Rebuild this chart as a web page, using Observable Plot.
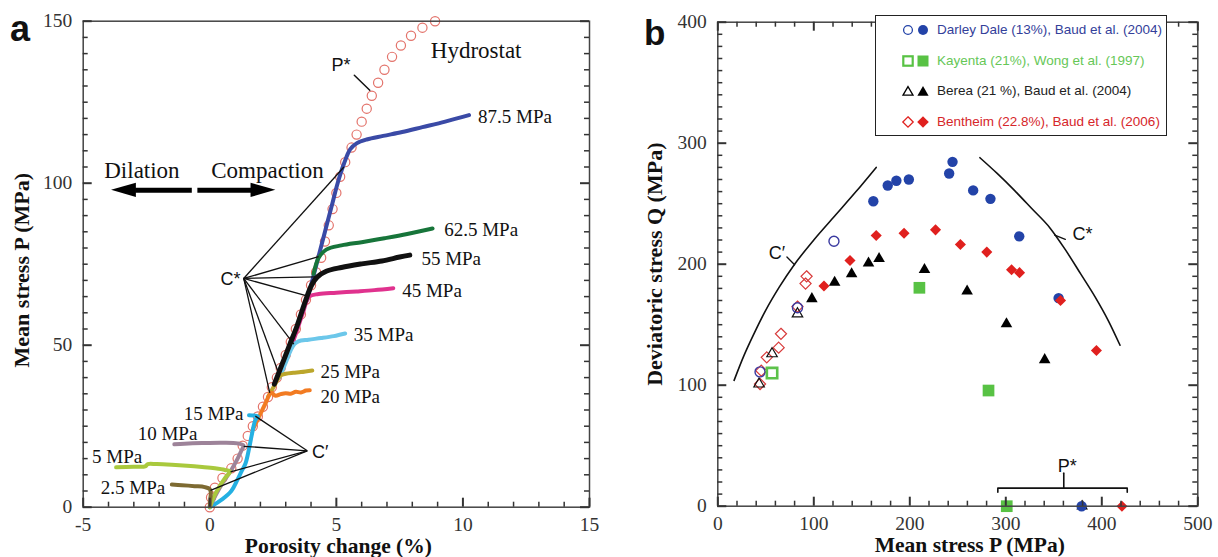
<!DOCTYPE html>
<html><head><meta charset="utf-8">
<script src="https://cdn.jsdelivr.net/npm/d3@7"></script>
<script src="https://cdn.jsdelivr.net/npm/@observablehq/plot@0.6"></script>
<style>
body{margin:0;background:#fff;}
#wrap{position:relative;width:1218px;height:557px;overflow:hidden;background:#fff;}
#pa{position:absolute;left:0;top:0;}
#pb{position:absolute;left:600px;top:0;}
.letter{position:absolute;font-family:"Liberation Sans",Arial,sans-serif;font-weight:bold;line-height:1;color:#111;}
#legend{position:absolute;left:875px;top:15px;width:290px;height:119px;border:1.5px solid #222;background:#fff;font-family:"Liberation Sans",Arial,sans-serif;font-size:13.5px;}
.row{position:absolute;left:0;height:20px;line-height:20px;white-space:nowrap;}
.row svg{position:absolute;top:0;}
.row span{position:absolute;left:61px;top:0;}
</style></head>
<body>
<div id="wrap">
  <div id="pa"></div>
  <div id="pb"></div>
  <div class="letter" style="left:10px;top:11px;font-size:36px">a</div>
  <div class="letter" style="left:644px;top:15px;font-size:35px">b</div>
  <div id="legend"></div>
</div>
<script>
// ---------------- Panel a data ----------------
const hydrostat = [[0,0],[0.05,3],[0.2,6],[0.5,9],[0.85,12],[1.1,15],[1.3,19],[1.5,22],[1.7,25],[1.9,28],[2.1,31],[2.3,34],[2.45,37],[2.65,40],[2.8,43],[3.0,47],[3.2,51],[3.4,55],[3.6,59.5],[3.8,64],[4.0,68.5],[4.2,72.5],[4.4,77],[4.55,82],[4.7,87],[4.85,92],[5.0,97],[5.15,102],[5.35,106.5],[5.6,111],[5.8,115],[6.0,119],[6.2,123],[6.4,127],[6.65,131],[6.9,135],[7.2,139],[7.55,142.5],[7.95,145.5],[8.4,148],[8.9,150]];

const curveNames  = ["87.5 MPa","62.5 MPa","45 MPa","35 MPa","25 MPa","20 MPa","55 MPa","15 MPa","10 MPa","5 MPa","2.5 MPa"];
const curveColors = ["#3a4aa6","#17753a","#e0328e","#6cc7ea","#bba62c","#f27b22","#111111","#24b0e2","#9d8399","#a9c93d","#7d6a32"];
const curveWidths = [4,4,4,4,4,4,5,4,4,4,4];
const curve875 = [[3.85,64],[4.05,70],[4.25,76],[4.45,82],[4.65,88],[4.85,94],[5.05,100],[5.3,106],[5.55,110.5],[5.8,112.3],[6.2,113.5],[6.85,114.6],[7.6,115.8],[8.4,117.3],[9.3,119],[10.24,121]];
const curve625 = [[4.1,72],[4.3,77],[4.6,79.5],[5.2,80.8],[6.0,81.8],[6.9,83],[7.8,84.3],[8.8,86]];
const curve45  = [[3.15,48],[3.42,54],[3.68,60],[3.93,65],[4.3,65.8],[5.0,66.2],[5.8,66.6],[6.5,67],[7.25,67.6]];
const curve35  = [[2.75,40],[3.02,45],[3.2,48.5],[3.34,50.3],[3.5,51.2],[3.9,51.7],[4.4,52.2],[4.9,52.8],[5.35,53.6]];
const curve25  = [[2.3,34],[2.55,37.5],[2.79,40.6],[3.0,41.2],[3.3,41.5],[3.6,41.7],[4.05,42.2]];
const curve20  = [[1.7,24],[1.95,28],[2.2,32],[2.42,35.3],[2.6,34.4],[2.8,34.9],[3.0,35.2],[3.2,35.0],[3.4,35.6],[3.6,35.4],[3.8,36.0],[3.95,36.1]];
const curve55  = [[2.55,38],[2.85,44],[3.15,50],[3.45,56],[3.75,63],[4.02,68.5],[4.24,71],[4.6,72.8],[5.2,74],[6.0,75.1],[6.8,76],[7.5,77.2],[7.9,77.8]];
const curve15  = [[0,0],[0.5,2.5],[0.85,5],[1.08,8.3],[1.25,11],[1.41,13.5],[1.55,18],[1.67,22.7],[1.8,26.9],[1.9,28],[1.75,28.3],[1.55,28.4]];
const curve10  = [[0,0],[0.25,4],[0.55,8],[0.85,11.5],[1.1,15],[1.25,17.5],[1.33,19],[1.1,19.7],[0.5,19.9],[-0.3,19.8],[-1.0,19.6],[-1.4,19.4]];
const curve5   = [[0,0],[0.15,3],[0.35,6],[0.6,9],[0.8,11],[0.6,11.5],[0.2,12.0],[-0.3,12.4],[-0.9,12.8],[-1.5,13.1],[-2.1,13.3],[-2.45,13.3],[-2.55,12.6],[-3.0,12.5],[-3.7,12.3]];
const curve2_5 = [[0,0.5],[0.02,2.5],[0.04,4.5],[0.0,5.6],[-0.2,6.2],[-0.6,6.5],[-1.1,6.8],[-1.5,7.0]];
const curvePts = [curve875,curve625,curve45,curve35,curve25,curve20,curve55,curve15,curve10,curve5,curve2_5];

// curve labels: [x, y, anchor]
const labelPos = [[10.6,120.4,"start"],[9.26,85.5,"start"],[7.6,66.8,"start"],[5.69,53.2,"start"],[4.37,41.8,"start"],[4.37,34,"start"],[8.36,76.6,"start"],[1.33,28.7,"end"],[-0.49,22.6,"end"],[-2.67,15.5,"end"],[-1.76,5.9,"end"]];

const cStarApex = [1.34,70.6];
const cStarEnds = [[5.3,105],[4.3,77.3],[4.17,71.1],[3.91,65.1],[3.32,50.3],[2.76,40.5],[2.37,35.3]];
const cPrimeApex = [3.85,17.4];
const cPrimeEnds = [[1.8,28.1],[1.34,18.8],[0.82,10.9],[0.03,5.2]];
const pStarTickA = [[5.71,133.3],[6.32,128.7]];
const annotA = [{t:"C*",x:1.21,y:70.5,a:"end"},{t:"C′",x:4.04,y:17.1,a:"start"},{t:"P*",x:5.18,y:136.4,a:"middle"}];
const textA = [{t:"Hydrostat",x:8.73,y:141,a:"start"},{t:"Dilation",x:-2.68,y:104,a:"middle"},{t:"Compaction",x:2.28,y:104,a:"middle"}];
const arrowShafts = [[-2.95,-0.71,97.8],[-0.49,1.7,97.8]];
const arrowHeadL = [{x:-3.88,y1:97.8,y2:97.8},{x:-2.9,y1:95.6,y2:100}];
const arrowHeadR = [{x:2.61,y1:97.8,y2:97.8},{x:1.63,y1:95.6,y2:100}];

const aMajorX = [-5,0,5,10,15];
const aMinorX = d3.range(-5,15.01,1).filter(v => v % 5 !== 0);
const aMajorY = [0,50,100,150];
const aMinorY = d3.range(0,150.01,5).filter(v => v % 50 !== 0);

// ---------------- Panel b data ----------------
const ddOpen   = [[44,111],[83,164],[121,219]];
const ddFilled = [[162,252],[177,265],[186,269],[199,270],[241,275],[244.5,284.6],[266,261],[284,254],[314,223],[355,172],[379,0]];
const kyOpen   = [[56.5,110]];
const kyFilled = [[210,180.5],[282,95.6],[301,0]];
const beOpen   = [[43,101],[56.5,126],[83,159]];
const beFilled = [[98,171.4],[121.7,185],[139.4,192],[157,200.8],[168,204.5],[215.3,195.4],[259.7,177.7],[300.7,150.7],[340.5,121],[379.5,0]];
const btOpen   = [[44,101],[45.3,112],[51,123],[63.4,131],[65.8,142.5],[83,165],[91.4,184],[92.5,190]];
const btFilled = [[110.6,182],[137.7,203],[165,223.7],[194,225.6],[226.8,228.4],[252.7,216.3],[280.2,210],[306,195.4],[314.3,193],[357,170],[394.4,128.7],[421,0]];
const cPrimeCurve = [[17,104],[27,124],[38,143],[50,162],[64,181],[80,200],[100,220],[122,240],[144,260],[165,280]];
const cStarCurve  = [[273,288],[291,275],[309,261],[327,246],[346,230],[362,212],[378,192],[393,173],[407,153],[419,133]];
const pStarBracket = [[291.7,11.6],[291.7,14.9],[426.5,14.9],[426.5,11.6]];
const pStarStem = [[360.4,14.9],[360.4,27.3]];
const cPrimeTick = [[72,206],[80,199.5]];
const cStarTick = [[351,224],[362,220.5]];
const annotB = [{t:"C′",x:61.6,y:209.3,a:"middle"},{t:"C*",x:380,y:225,a:"middle"},{t:"P*",x:364,y:33,a:"middle"}];
const legendLabels = ["Darley Dale (13%), Baud et al. (2004)","Kayenta (21%), Wong et al. (1997)","Berea (21 %), Baud et al. (2004)","Bentheim (22.8%),  Baud et al. (2006)"];
const legendColors = ["#33409a","#66c757","#222222","#d6262a"];

const bMajorX = [0,100,200,300,400,500];
const bMinorX = d3.range(0,500.01,20).filter(v => v % 100 !== 0);
const bMajorY = [0,100,200,300,400];
const bMinorY = d3.range(0,400.01,10).filter(v => v % 100 !== 0);

// ---------------- helpers ----------------
const SERIF = '"Liberation Serif","Times New Roman",serif';
const SANS = '"Liberation Sans",Arial,sans-serif';
const X = d => d[0], Y = d => d[1];

function tickMarks(minX, majX, minY, majY, ih, iw, sides) {
  const m = [];
  const st = {stroke:"#333", strokeWidth:1.5};
  const mn = 5, mj = 9;
  if (sides.includes("b")) {
    m.push(Plot.tickX(minX, {x:d=>d, insetTop: ih-mn, ...st}));
    m.push(Plot.tickX(majX, {x:d=>d, insetTop: ih-mj, ...st, strokeWidth:2}));
  }
  if (sides.includes("t")) {
    m.push(Plot.tickX(minX, {x:d=>d, insetBottom: ih-mn, ...st}));
    m.push(Plot.tickX(majX, {x:d=>d, insetBottom: ih-mj, ...st, strokeWidth:2}));
  }
  if (sides.includes("l")) {
    m.push(Plot.tickY(minY, {y:d=>d, insetRight: iw-mn, ...st}));
    m.push(Plot.tickY(majY, {y:d=>d, insetRight: iw-mj, ...st, strokeWidth:2}));
  }
  if (sides.includes("r")) {
    m.push(Plot.tickY(minY, {y:d=>d, insetLeft: iw-mn, ...st}));
    m.push(Plot.tickY(majY, {y:d=>d, insetLeft: iw-mj, ...st, strokeWidth:2}));
  }
  return m;
}
function textByAnchor(rows, opts) {
  return ["start","middle","end"].map(a => Plot.text(rows.filter(r => r.a === a), {x:"x", y:"y", text:"t", textAnchor:a, ...opts}));
}

// ---------------- Panel a ----------------
const A = {w:600, h:557, ml:82.7, mr:11, mt:20.7, mb:50.3};
const aIH = A.h - A.mt - A.mb, aIW = A.w - A.ml - A.mr;
const curveMarks = curvePts.map((pts,i) => Plot.line(pts, {x:X, y:Y, stroke:curveColors[i], strokeWidth:curveWidths[i], curve:"catmull-rom", strokeLinecap:"round", strokeLinejoin:"round"}));
const labelRows = labelPos.map((p,i) => ({t:curveNames[i], x:p[0], y:p[1], a:p[2]}));

const pa = Plot.plot({
  width:A.w, height:A.h, marginLeft:A.ml, marginRight:A.mr, marginTop:A.mt, marginBottom:A.mb,
  x:{domain:[-5,15]}, y:{domain:[0,150]},
  style:{fontFamily:SERIF, fontSize:"19.5px", color:"#333", background:"transparent", overflow:"visible"},
  marks:[
    Plot.dot(hydrostat, {x:X, y:Y, r:4.6, stroke:"#e3736b", strokeWidth:1.2, fill:"none"}),
    ...curveMarks,
    Plot.link(cStarEnds, {x1:()=>cStarApex[0], y1:()=>cStarApex[1], x2:X, y2:Y, stroke:"#111", strokeWidth:1.3}),
    Plot.link(cPrimeEnds, {x1:()=>cPrimeApex[0], y1:()=>cPrimeApex[1], x2:X, y2:Y, stroke:"#111", strokeWidth:1.3}),
    Plot.line(pStarTickA, {x:X, y:Y, stroke:"#111", strokeWidth:1.5}),
    Plot.link(arrowShafts, {x1:d=>d[0], x2:d=>d[1], y1:d=>d[2], y2:d=>d[2], stroke:"#000", strokeWidth:5}),
    Plot.areaY(arrowHeadL, {x:"x", y1:"y1", y2:"y2", fill:"#000"}),
    Plot.areaY(arrowHeadR, {x:"x", y1:"y1", y2:"y2", fill:"#000"}),
    ...textByAnchor(labelRows, {fontFamily:SERIF, fontSize:19, fill:"#111"}),
    ...textByAnchor(textA, {fontFamily:SERIF, fontSize:23, fill:"#111"}),
    ...textByAnchor(annotA, {fontFamily:SANS, fontSize:18, fill:"#111"}),
    Plot.frame({stroke:"#444", strokeWidth:1.5}),
    ...tickMarks(aMinorX, aMajorX, aMinorY, aMajorY, aIH, aIW, "blr"),
    Plot.axisX({ticks:aMajorX, tickSize:0, tickPadding:10, tickFormat:d=>String(d), label:null}),
    Plot.axisY({ticks:aMajorY, tickSize:0, tickPadding:11, tickFormat:d=>String(d), label:null}),
    Plot.text(["Porosity change (%)"], {frameAnchor:"bottom", dx:2, dy:38.5, textAnchor:"middle", lineAnchor:"middle", fontFamily:SERIF, fontWeight:"bold", fontSize:21.5, fill:"#111"}),
    Plot.text(["Mean stress P (MPa)"], {frameAnchor:"left", dx:-61, dy:6, rotate:-90, textAnchor:"middle", lineAnchor:"middle", fontFamily:SERIF, fontWeight:"bold", fontSize:22, fill:"#111"})
  ]
});
document.getElementById("pa").appendChild(pa);

// ---------------- Panel b ----------------
const B = {w:618, h:557, ml:117.3, mr:20.7, mt:21.7, mb:51.3};
const bIH = B.h - B.mt - B.mb, bIW = B.w - B.ml - B.mr;
const pb = Plot.plot({
  width:B.w, height:B.h, marginLeft:B.ml, marginRight:B.mr, marginTop:B.mt, marginBottom:B.mb,
  x:{domain:[0,500]}, y:{domain:[0,400]},
  style:{fontFamily:SERIF, fontSize:"19.5px", color:"#333", background:"transparent", overflow:"visible"},
  marks:[
    Plot.line(cPrimeCurve, {x:X, y:Y, curve:"monotone-x", stroke:"#111", strokeWidth:1.6}),
    Plot.line(cStarCurve, {x:X, y:Y, curve:"monotone-x", stroke:"#111", strokeWidth:1.6}),
    Plot.line(cPrimeTick, {x:X, y:Y, stroke:"#111", strokeWidth:1.3}),
    Plot.line(cStarTick, {x:X, y:Y, stroke:"#111", strokeWidth:1.3}),
    Plot.line(pStarBracket, {x:X, y:Y, stroke:"#111", strokeWidth:1.6}),
    Plot.line(pStarStem, {x:X, y:Y, stroke:"#111", strokeWidth:1.6}),
    ...textByAnchor(annotB, {fontFamily:SANS, fontSize:18, fill:"#111"}),
    Plot.dot(btOpen, {x:X, y:Y, symbol:"diamond2", r:5, stroke:"#d83a3a", strokeWidth:1.2, fill:"none"}),
    Plot.dot(beOpen, {x:X, y:Y, symbol:"triangle2", r:5, stroke:"#111", strokeWidth:1.2, fill:"none"}),
    Plot.dot(ddOpen, {x:X, y:Y, symbol:"circle", r:5, stroke:"#3a3aa0", strokeWidth:1.4, fill:"none"}),
    Plot.dot(kyOpen, {x:X, y:Y, symbol:"square2", r:6.6, stroke:"#5cc24a", strokeWidth:2.6, fill:"none"}),
    Plot.dot(beFilled, {x:X, y:Y, symbol:"triangle", r:4.3, fill:"#000"}),
    Plot.dot(kyFilled, {x:X, y:Y, symbol:"square", r:6.6, fill:"#58c244"}),
    Plot.dot(ddFilled, {x:X, y:Y, symbol:"circle", r:5.2, fill:"#2343a8"}),
    Plot.dot(btFilled, {x:X, y:Y, symbol:"diamond2", r:5, fill:"#e0201e"}),
    Plot.frame({stroke:"#444", strokeWidth:1.5}),
    ...tickMarks(bMinorX, bMajorX, bMinorY, bMajorY, bIH, bIW, "btlr"),
    Plot.axisX({ticks:bMajorX, tickSize:0, tickPadding:10, tickFormat:d=>String(d), label:null}),
    Plot.axisY({ticks:bMajorY, tickSize:0, tickPadding:11, tickFormat:d=>String(d), label:null}),
    Plot.text(["Mean stress P (MPa)"], {frameAnchor:"bottom", dx:12, dy:38.5, textAnchor:"middle", lineAnchor:"middle", fontFamily:SERIF, fontWeight:"bold", fontSize:21.5, fill:"#111"}),
    Plot.text(["Deviatoric stress Q (MPa)"], {frameAnchor:"left", dx:-63, dy:0, rotate:-90, textAnchor:"middle", lineAnchor:"middle", fontFamily:SERIF, fontWeight:"bold", fontSize:22, fill:"#111"})
  ]
});
document.getElementById("pb").appendChild(pb);

// ---------------- Legend (HTML) ----------------
function sym(kind, filled, color, left) {
  const s = 14, c = 7;
  let shape = "";
  const f = filled ? color : "none", w = filled ? 0 : (kind === "square" ? 2.2 : 1.3);
  if (kind === "circle") shape = `<circle cx="${c}" cy="${c}" r="${filled?5:4.4}" fill="${f}" stroke="${filled?"none":color}" stroke-width="${w}"/>`;
  if (kind === "square") shape = filled ? `<rect x="1.5" y="1.5" width="11" height="11" fill="${f}"/>` : `<rect x="2.3" y="2.3" width="9.4" height="9.4" fill="none" stroke="${color}" stroke-width="${w}"/>`;
  if (kind === "triangle") shape = `<path d="M7,${filled?2:2.6}L${filled?12.6:12},${filled?11.7:11.2}L${filled?1.4:2},${filled?11.7:11.2}Z" fill="${f}" stroke="${filled?"none":color}" stroke-width="${w}"/>`;
  if (kind === "diamond") shape = `<path d="M7,${filled?1.2:1.8}L${filled?12.8:12.2},7L7,${filled?12.8:12.2}L${filled?1.2:1.8},7Z" fill="${f}" stroke="${filled?"none":color}" stroke-width="${w}"/>`;
  return `<svg width="${s}" height="${s}" style="top:3px;left:${left}px" viewBox="0 0 ${s} ${s}">${shape}</svg>`;
}
const legendKinds = ["circle","square","triangle","diamond"];
const legendSymColors = ["#2343a8","#58c244","#000000","#e0201e"];
const legendTops = [4,35,65,96];
const leg = document.getElementById("legend");
legendLabels.forEach((lab,i) => {
  const row = document.createElement("div");
  row.className = "row";
  row.style.top = legendTops[i] + "px";
  row.style.width = "290px";
  row.innerHTML = sym(legendKinds[i], false, legendSymColors[i], 25) + sym(legendKinds[i], true, legendSymColors[i], 40) + `<span style="color:${legendColors[i]}">${lab}</span>`;
  leg.appendChild(row);
});
</script>
</body></html>
